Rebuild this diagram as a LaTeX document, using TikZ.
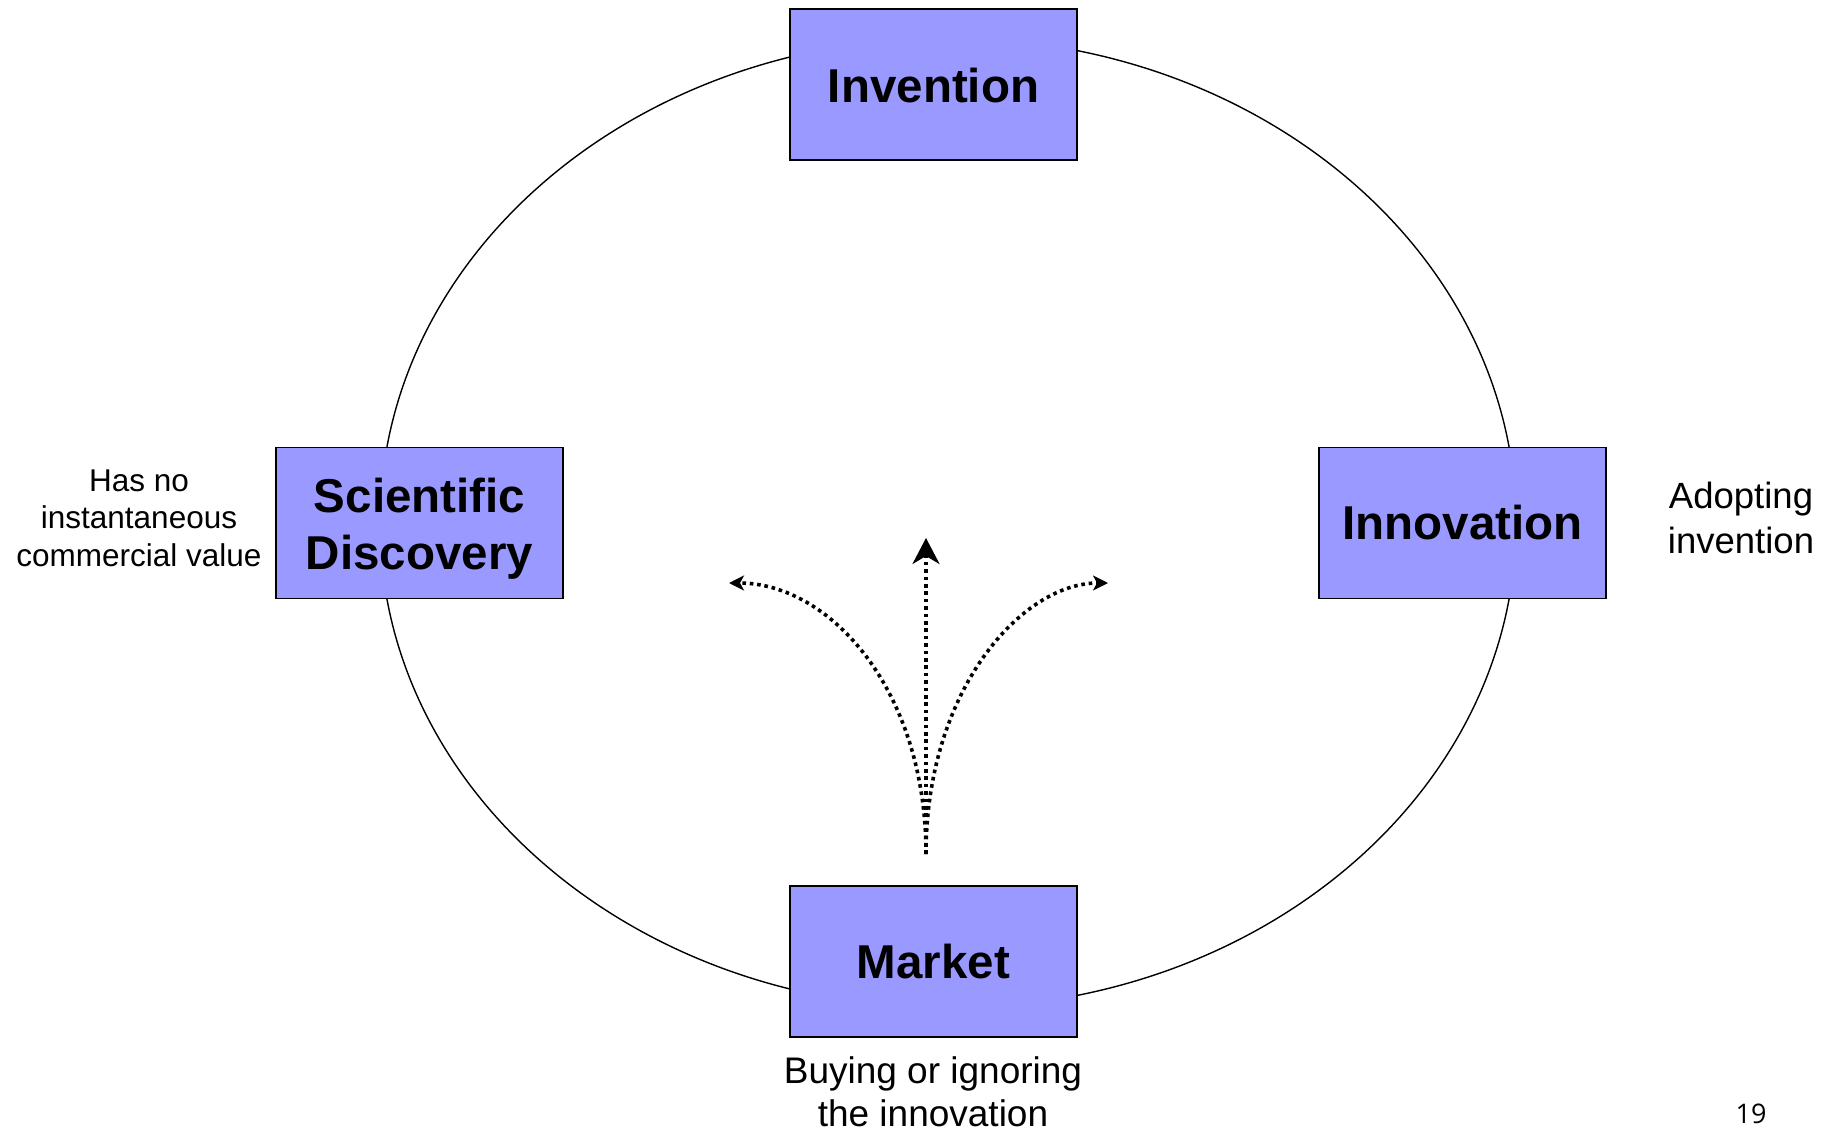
\documentclass[tikz,border=0pt]{standalone}
\usepackage{fontspec}
\setmainfont{Liberation Sans}
\newfontfamily\numfont{Open Sans}
\usetikzlibrary{arrows.meta}
\begin{document}
\begin{tikzpicture}[x=1pt,y=-1pt,
  stagebox/.style={draw=black, line width=1.6pt, fill={rgb,255:red,153;green,153;blue,255},
    minimum width=287pt, minimum height=151pt, inner sep=0pt, align=center,
    font=\fontsize{47.5}{57}\selectfont\bfseries},
  note/.style={align=center, inner sep=0pt},
  flow/.style={line width=3.6pt, dash pattern=on 3.6pt off 3.8pt}]
\useasboundingbox (0,0) rectangle (1835,1132);
\draw[line width=1.4pt] (948,523) ellipse [x radius=568, y radius=485];
\node[stagebox] (inv) at (933.5,84.5) {\raisebox{-1.5pt}[\height][\depth]{Invention}};
\node[stagebox] (sci) at (419.5,523) {\raisebox{-7pt}[\height][\depth]{\begin{tabular}{@{}c@{}}Scientific\\Discovery\end{tabular}}};
\node[stagebox] (ino) at (1462.5,523) {Innovation};
\node[stagebox] (mkt) at (933.5,961.5) {Market};
\node[note, font=\fontsize{31.5}{37.5}\selectfont] (sciN) at (139,518) {Has no\\instantaneous\\commercial value};
\node[note, font=\fontsize{36.5}{44.5}\selectfont] (inoN) at (1741,518) {Adopting\\invention};
\node[note, font=\fontsize{37}{43}\selectfont] (mktN) at (933,1092) {Buying or ignoring\\the innovation};
\node[note, font=\numfont\fontsize{27}{32}\selectfont, anchor=south] (pg) at (1751,1124) {19};
\coordinate (o) at (926,854);
\coordinate (tm) at (926,538);
\coordinate (tl) at (729,583);
\coordinate (tr) at (1108,583);
\draw[flow, -{Stealth[length=26pt,width=27pt,inset=8pt]}] (o) -- (tm);
\draw[flow, -{Stealth[length=15pt,width=15pt,inset=4pt]}] (o) .. controls (926,690) and (830,583) .. (tl);
\draw[flow, -{Stealth[length=15pt,width=15pt,inset=4pt]}] (o) .. controls (926,690) and (1022,583) .. (tr);
\end{tikzpicture}
\end{document}
